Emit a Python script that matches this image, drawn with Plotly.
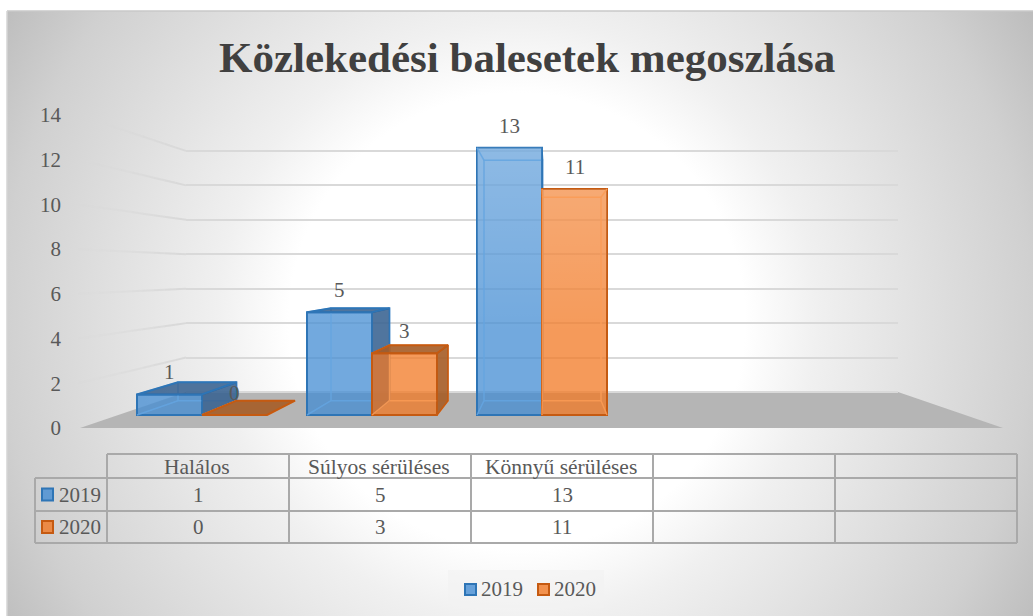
import base64
import plotly.graph_objects as go

# ---- data ----
title_text = "Közlekedési balesetek megoszlása"
categories = ["Halálos", "Súlyos sérüléses", "Könnyű sérüléses"]
series_names = ["2019", "2020"]
values_2019 = [1, 5, 13]
values_2020 = [0, 3, 11]
y_ticks = [0, 2, 4, 6, 8, 10, 12, 14]

# ---- page geometry (pixels) ----
W, H = 1033, 616
SERIF = "Liberation Serif"
TXT = "#595959"
def px(x): return x / W
def py(y): return 1 - y / H

# bar plane: category index -> pixel, value -> pixel
CAT0, CATW = 202.0, 170.0
VAL0, VALH = 415.0, 20.55
BAR_W = 65.0 / CATW
xr = [(0 - CAT0) / CATW, (W - CAT0) / CATW]
yr = [(VAL0 - H) / VALH, VAL0 / VALH]
# perspective: back plane of each bar
VX, VY, K = (547 - CAT0) / CATW, (VAL0 - 272) / VALH, 0.9
def back(x, y): return VX + K * (x - VX), VY + K * (y - VY)

bg_svg = f'''<svg xmlns="http://www.w3.org/2000/svg" width="{W-7}" height="{H-11}" preserveAspectRatio="none">
<defs><radialGradient id="g" gradientUnits="userSpaceOnUse" cx="510" cy="310" r="600">
<stop offset="0.38" stop-color="#ffffff"/><stop offset="0.5" stop-color="#f0f0f0"/><stop offset="0.86" stop-color="#d0d0d0"/><stop offset="1" stop-color="#bdbdbd"/>
</radialGradient></defs><rect width="100%" height="100%" fill="url(#g)"/></svg>'''
bg_uri = "data:image/svg+xml;base64," + base64.b64encode(bg_svg.encode()).decode()

fig = go.Figure()

# back-wall gridlines live on the first subplot so they sit below the bars
fig.add_trace(go.Scatter(x=[0, 1], y=[0, 0], mode="lines", line=dict(width=0),
                         xaxis="x", yaxis="y", hoverinfo="skip", showlegend=False))
# value axis labels (front edge scale)
fig.add_trace(go.Scatter(x=[0, 1], y=[0, 0], mode="lines", line=dict(width=0),
                         xaxis="x4", yaxis="y4", hoverinfo="skip", showlegend=False))

STYLE = [
    dict(xa="x2", ya="y2", off=-0.5, fill="rgba(67,140,211,0.75)", line="#2e75b6", side="rgba(56,98,145,0.88)",
         inner="rgba(100,165,225,0.85)"),
    dict(xa="x3", ya="y3", off=0.5, fill="rgba(241,120,35,0.75)", line="#c55a11", side="rgba(165,92,38,0.9)",
         inner="rgba(250,155,85,0.85)"),
]

annotations = []
for name, vals, s in zip(series_names, [values_2019, values_2020], STYLE):
    cx = [i + s["off"] * BAR_W for i in range(len(vals))]
    fig.add_trace(go.Bar(x=cx, y=vals, width=BAR_W, name=name, xaxis=s["xa"], yaxis=s["ya"],
                         marker=dict(color=s["fill"], line=dict(color=s["line"], width=2)),
                         hoverinfo="skip", showlegend=False))
    for c, v in zip(cx, vals):
        x0, x1 = c - BAR_W / 2, c + BAR_W / 2
        bl = back(x0, 0); br = back(x1, 0); tl = back(x0, v); tr = back(x1, v)
        # soft lightening towards the top of the front face
        if v > 0:
            fig.add_trace(go.Scatter(x=[x0, x1, x1, x0, x0], y=[0, 0, v, v, 0], mode="none", fill="toself",
                                     xaxis=s["xa"], yaxis=s["ya"], hoverinfo="skip", showlegend=False,
                                     fillgradient=dict(type="vertical", start=4, stop=13,
                                                       colorscale=[[0, "rgba(255,255,255,0)"],
                                                                   [1, "rgba(255,255,255,0.2)"]])))
        # wireframe seen through the translucent front
        wx = [bl[0], br[0], tr[0], tl[0], bl[0], None, x0, bl[0], None, x1, br[0], None, x0, tl[0], None, x1, tr[0]]
        wy = [bl[1], br[1], tr[1], tl[1], bl[1], None, 0, bl[1], None, 0, br[1], None, v, tl[1], None, v, tr[1]]
        fig.add_trace(go.Scatter(x=wx, y=wy, mode="lines", line=dict(color=s["inner"], width=1.5),
                                 xaxis=s["xa"], yaxis=s["ya"], hoverinfo="skip", showlegend=False))
        # outward faces
        if v < VY:
            fig.add_trace(go.Scatter(x=[x0, x1, tr[0], tl[0], x0], y=[v, v, tr[1], tl[1], v], mode="lines",
                                     fill="toself", fillcolor=s["side"], line=dict(color=s["line"], width=2),
                                     xaxis=s["xa"], yaxis=s["ya"], hoverinfo="skip", showlegend=False))
        if x1 < VX and v > 0:
            fig.add_trace(go.Scatter(x=[x1, br[0], tr[0], x1, x1], y=[0, br[1], tr[1], v, 0], mode="lines",
                                     fill="toself", fillcolor=s["side"], line=dict(color=s["line"], width=1.5),
                                     xaxis=s["xa"], yaxis=s["ya"], hoverinfo="skip", showlegend=False))
        annotations.append(dict(x=c, y=v, xref=s["xa"], yref=s["ya"], text=str(v), showarrow=False, yshift=22,
                                font=dict(family=SERIF, size=21, color=TXT)))

# ---- static page elements ----
shapes = []
# floor
shapes.append(dict(type="path", xref="paper", yref="paper", layer="below", line=dict(width=0), fillcolor="#b5b5b5",
                   path=f"M {px(80)} {py(428)} L {px(1003)} {py(428)} L {px(898)} {py(392)} L {px(186)} {py(392)} Z"))
# side-wall gridlines fading towards the left
for t in y_ticks[1:]:
    fy, by = 428 - t * 22.36, 392 - t * 17.22
    n = 10
    for j in range(n):
        a, b = j / n, (j + 1) / n
        shapes.append(dict(type="line", xref="paper", yref="paper", layer="below",
                           x0=px(186 - 108 * a), x1=px(186 - 108 * b),
                           y0=py(by + (fy - by) * a), y1=py(by + (fy - by) * b),
                           line=dict(color="#d9d9d9", width=2), opacity=max(0.08, 1 - a * 1.05)))
# outer edges of the chart area
shapes.append(dict(type="line", xref="paper", yref="paper", layer="below", x0=px(7), x1=1, y0=py(11), y1=py(11),
                   line=dict(color="#c8c8c8", width=1.5)))
shapes.append(dict(type="line", xref="paper", yref="paper", layer="below", x0=px(7), x1=px(7), y0=py(11), y1=0,
                   line=dict(color="#d4d4d4", width=1.5)))

# data table
TBL = "#a9a9a9"
col_x = [107, 289, 471, 653, 835, 1017]
row_y = [454, 478, 511, 543]
left_x = 35
def hline(x0, x1, y):
    shapes.append(dict(type="line", xref="paper", yref="paper", x0=px(x0), x1=px(x1), y0=py(y), y1=py(y),
                       line=dict(color=TBL, width=2)))
def vline(x, y0, y1):
    shapes.append(dict(type="line", xref="paper", yref="paper", x0=px(x), x1=px(x), y0=py(y0), y1=py(y1),
                       line=dict(color=TBL, width=2)))
hline(col_x[0], col_x[-1], row_y[0])
for y in row_y[1:]:
    hline(left_x, col_x[-1], y)
for x in col_x:
    vline(x, row_y[0], row_y[-1])
vline(left_x, row_y[1], row_y[-1])

def label(x, y, text, size=21, anchor="center", color=TXT, bold=False):
    annotations.append(dict(x=px(x), y=py(y), xref="paper", yref="paper", text=f"<b>{text}</b>" if bold else text,
                            showarrow=False, xanchor=anchor, yanchor="middle",
                            font=dict(family=SERIF, size=size, color=color)))

label(527, 58, title_text, size=43, color="#404040", bold=True)
header = categories + ["", ""]
for i, c in enumerate(header):
    if c:
        label((col_x[i] + col_x[i + 1]) / 2 - 1, 467, c, size=21.5)
for r, (name, vals, s) in enumerate(zip(series_names, [values_2019, values_2020], STYLE)):
    ymid = (row_y[r + 1] + row_y[r + 2]) / 2
    label(57, ymid, name, size=21, anchor="left")
    shapes.append(dict(type="rect", xref="paper", yref="paper", x0=px(42), x1=px(53), y0=py(ymid - 6), y1=py(ymid + 6),
                       fillcolor=s["fill"].replace("0.75", "0.8"), line=dict(color=s["line"], width=2)))
    for i, v in enumerate(vals):
        label((col_x[i] + col_x[i + 1]) / 2, ymid, str(v))

# legend panel and keys
shapes.append(dict(type="rect", xref="paper", yref="paper", layer="below", x0=px(448), x1=px(604), y0=py(570), y1=py(608),
                   fillcolor="rgba(242,242,242,0.6)", line=dict(width=0)))
for x_key, x_txt, name, s in zip([465, 538], [479, 552], series_names, STYLE):
    shapes.append(dict(type="rect", xref="paper", yref="paper", x0=px(x_key), x1=px(x_key + 11), y0=py(584), y1=py(595),
                       fillcolor=s["fill"].replace("0.75", "0.8"), line=dict(color=s["line"], width=2)))
    label(x_txt, 589, name, size=21, anchor="left")

hidden = dict(visible=False, fixedrange=True, automargin=False)
GRID_PAD = 0.2  # keep the top gridline inside the axis range
GRID_PX = 17.22
fig.update_layout(
    template="none",
    width=W, height=H, autosize=False,
    margin=dict(l=0, r=0, t=0, b=0, pad=0, autoexpand=False),
    paper_bgcolor="white", plot_bgcolor="rgba(0,0,0,0)",
    barmode="overlay", showlegend=False,
    images=[dict(source=bg_uri, xref="paper", yref="paper", x=px(7), y=py(11), sizex=1 - px(7), sizey=py(11),
                 sizing="stretch", layer="below", xanchor="left", yanchor="top")],
    # back-wall gridlines
    xaxis=dict(domain=[px(186), px(898)], range=[0, 1], **hidden),
    yaxis=dict(domain=[py(392 + GRID_PAD * GRID_PX), py(392 - (14 + GRID_PAD) * GRID_PX)],
               range=[-GRID_PAD, 14 + GRID_PAD], tickvals=y_ticks, showgrid=True, gridcolor="#d9d9d9",
               gridwidth=2, zeroline=False, showticklabels=False, ticks="", showline=False, fixedrange=True,
               automargin=False),
    # bar plane, one subplot per series so the later series covers the earlier
    xaxis2=dict(domain=[0, 1], range=xr, anchor="y2", **hidden),
    yaxis2=dict(domain=[0, 1], range=yr, anchor="x2", **hidden),
    xaxis3=dict(range=xr, overlaying="x2", anchor="y3", **hidden),
    yaxis3=dict(range=yr, overlaying="y2", anchor="x3", **hidden),
    # value axis labels
    xaxis4=dict(domain=[0, 1], range=[0, 1], anchor="y4", **hidden),
    yaxis4=dict(domain=[py(428), py(115)], range=[0, 14], tickvals=y_ticks, anchor="free", position=px(61),
                showgrid=False, zeroline=False, showline=False, ticks="", fixedrange=True, automargin=False,
                tickfont=dict(family=SERIF, size=21, color=TXT)),
    shapes=shapes, annotations=annotations,
)

fig.write_html("out.html", config=dict(displayModeBar=False),
               post_script="document.body.style.margin='0';document.body.style.overflow='hidden';")
